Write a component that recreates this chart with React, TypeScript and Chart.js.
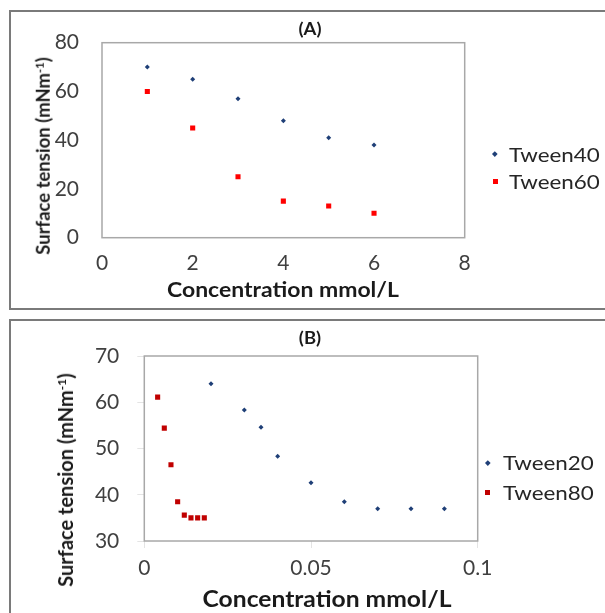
import React, { useEffect, useRef } from 'react';
import { Chart, registerables } from 'chart.js';

Chart.register(...registerables);

// ---------- data ----------
const concA = [1, 2, 3, 4, 5, 6];
const tween40 = [70, 65, 57, 48, 41, 38];
const tween60 = [60, 45, 25, 15, 13, 10];

const concB20 = [0.02, 0.03, 0.035, 0.04, 0.05, 0.06, 0.07, 0.08, 0.09];
const tween20 = [64, 58.3, 54.6, 48.3, 42.6, 38.5, 37, 37, 37];
const concB80 = [0.004, 0.006, 0.008, 0.01, 0.012, 0.014, 0.016, 0.018];
const tween80 = [61.1, 54.4, 46.5, 38.5, 35.6, 35, 35, 35];

const xTicksA = [0, 2, 4, 6, 8];
const yTicksA = [0, 20, 40, 60, 80];
const xTicksB = [0, 0.05, 0.1];
const yTicksB = [30, 40, 50, 60, 70];

const FONT = 'Lato, "Open Sans", sans-serif';
const BLUE = '#1f3f77';
const RED_A = '#ff0000';
const RED_B = '#c00000';
const STRETCH = 1.12;

const plotFrame = {
  id: 'plotFrame',
  beforeDatasetsDraw(chart: any) {
    const { ctx, chartArea: a } = chart;
    ctx.save();
    ctx.strokeStyle = '#a8a8a8';
    ctx.lineWidth = 1.5;
    ctx.strokeRect(a.left, a.top, a.right - a.left, a.bottom - a.top);
    ctx.restore();
  },
};

type Series = { label: string; x: number[]; y: number[]; color: string; style: string; radius: number };

function buildConfig(spec: any) {
  return {
    type: 'scatter',
    data: {
      datasets: spec.series.map((s: Series) => ({
        label: s.label,
        data: s.x.map((x, i) => ({ x, y: s.y[i] })),
        pointStyle: s.style,
        pointRadius: s.radius,
        backgroundColor: s.color,
        borderColor: s.color,
        borderWidth: 0,
        showLine: false,
      })),
    },
    options: {
      responsive: false,
      maintainAspectRatio: false,
      animation: false,
      events: [],
      layout: { padding: spec.padding },
      plugins: { legend: { display: false }, title: { display: false }, tooltip: { enabled: false } },
      scales: {
        x: {
          type: 'linear',
          min: spec.xTicks[0],
          max: spec.xTicks[spec.xTicks.length - 1],
          afterBuildTicks: (s: any) => { s.ticks = spec.xTicks.map((value: number) => ({ value })); },
          afterFit: (s: any) => { s.height = 40; },
          border: { display: false },
          grid: { drawOnChartArea: false, drawTicks: spec.tickLen > 0, tickLength: spec.tickLen, color: '#e4e4e4' },
          ticks: { font: { family: FONT, size: 21 }, color: '#404040', padding: spec.xPad, autoSkip: false, maxRotation: 0, callback: (v: number) => String(v) },
        },
        y: {
          type: 'linear',
          min: spec.yTicks[0],
          max: spec.yTicks[spec.yTicks.length - 1],
          afterBuildTicks: (s: any) => { s.ticks = spec.yTicks.map((value: number) => ({ value })); },
          afterFit: (s: any) => { s.width = spec.yWidth; },
          border: { display: false },
          grid: { drawOnChartArea: false, drawTicks: spec.tickLen > 0, tickLength: spec.tickLen, color: '#e4e4e4' },
          ticks: { font: { family: FONT, size: 21 }, color: '#404040', padding: spec.yPad, autoSkip: false, callback: (v: number) => String(v) },
        },
      },
    },
    plugins: [plotFrame],
  };
}

const specA = {
  series: [
    { label: 'Tween40', x: concA, y: tween40, color: BLUE, style: 'rectRot', radius: 2.5 },
    { label: 'Tween60', x: concA, y: tween60, color: RED_A, style: 'rect', radius: 3.6 },
  ],
  xTicks: xTicksA,
  yTicks: yTicksA,
  padding: { left: 0, top: 42.7, right: 140.3, bottom: 32.3 },
  yWidth: 102,
  tickLen: 0,
  yPad: 23,
  xPad: 13,
};

const specB = {
  series: [
    { label: 'Tween20', x: concB20, y: tween20, color: BLUE, style: 'rectRot', radius: 2.5 },
    { label: 'Tween80', x: concB80, y: tween80, color: RED_B, style: 'rect', radius: 3.6 },
  ],
  xTicks: xTicksB,
  yTicks: yTicksB,
  padding: { left: 0, top: 46, right: 127.3, bottom: 32 },
  yWidth: 144.3,
  tickLen: 7,
  yPad: 18,
  xPad: 8,
};

function ChartCanvas({ spec, top, height }: { spec: any; top: number; height: number }) {
  const ref = useRef<HTMLCanvasElement | null>(null);
  useEffect(() => {
    if (!ref.current) return;
    const chart = new Chart(ref.current, buildConfig(spec) as any);
    return () => chart.destroy();
  }, [spec]);
  return (
    <canvas
      ref={ref}
      width={605}
      height={height}
      style={{ position: 'absolute', left: 0, top, width: 605, height }}
    />
  );
}

function Txt({ x, y, rotate, style, children }: any) {
  return (
    <div
      style={{
        position: 'absolute',
        left: x,
        top: y,
        transform: rotate
          ? 'translate(-50%, -50%) rotate(-90deg)'
          : `translate(-50%, -50%) scaleX(${STRETCH})`,
        whiteSpace: 'nowrap',
        lineHeight: 1,
        fontFamily: FONT,
        color: '#1a1a1a',
        ...style,
      }}
    >
      {children}
    </div>
  );
}

function LegendItem({ x, y, textX, label, color, diamond }: any) {
  return (
    <>
      <div
        style={{
          position: 'absolute',
          left: x - (diamond ? 1.8 : 2.5),
          top: y - (diamond ? 1.8 : 2.5),
          width: diamond ? 3.6 : 5,
          height: diamond ? 3.6 : 5,
          background: color,
          transform: diamond ? 'rotate(45deg)' : undefined,
        }}
      />
      <div
        style={{
          position: 'absolute',
          left: textX,
          top: y,
          transform: `translateY(-50%) scaleX(${STRETCH})`,
          transformOrigin: 'left center',
          fontFamily: FONT,
          fontSize: 20,
          lineHeight: 1,
          color: '#262626',
          whiteSpace: 'nowrap',
        }}
      >
        {label}
      </div>
    </>
  );
}

export default function App() {
  const supStyle = { fontSize: '0.6em', verticalAlign: '0.55em', lineHeight: 0 } as any;
  return (
    <div style={{ position: 'absolute', left: 0, top: 0, width: 605, height: 613, overflow: 'hidden', background: '#fff' }}>
      {/* panel borders */}
      <div style={{ position: 'absolute', left: 9, top: 10, width: 700, height: 300, border: '2px solid #7a7a7a', boxSizing: 'border-box' }} />
      <div style={{ position: 'absolute', left: 9, top: 319, width: 700, height: 400, border: '2px solid #7a7a7a', boxSizing: 'border-box' }} />

      <ChartCanvas spec={specA} top={0} height={310} />
      <ChartCanvas spec={specB} top={310} height={303} />

      {/* panel A texts */}
      <Txt x={310} y={28.5} style={{ fontSize: 16.5, fontWeight: 700 }}>(A)</Txt>
      <Txt x={282.5} y={289.3} style={{ fontSize: 20.5, fontWeight: 700 }}>Concentration mmol/L</Txt>
      <Txt x={43} y={155.5} rotate style={{ fontSize: 18.5, fontWeight: 700 }}>
        Surface tension (mNm<span style={supStyle}>-1</span>)
      </Txt>
      <LegendItem x={495} y={153.7} textX={509.3} label="Tween40" color={BLUE} diamond />
      <LegendItem x={495} y={181} textX={509.3} label="Tween60" color={RED_A} />

      {/* panel B texts */}
      <Txt x={310} y={338} style={{ fontSize: 16.5, fontWeight: 700 }}>(B)</Txt>
      <Txt x={327} y={599.3} style={{ fontSize: 22, fontWeight: 700 }}>Concentration mmol/L</Txt>
      <Txt x={65} y={480} rotate style={{ fontSize: 20, fontWeight: 700 }}>
        Surface tension (mNm<span style={supStyle}>-1</span>)
      </Txt>
      <LegendItem x={487.7} y={462.3} textX={503.3} label="Tween20" color={BLUE} diamond />
      <LegendItem x={487.7} y={492.3} textX={503.3} label="Tween80" color={RED_B} />
    </div>
  );
}
